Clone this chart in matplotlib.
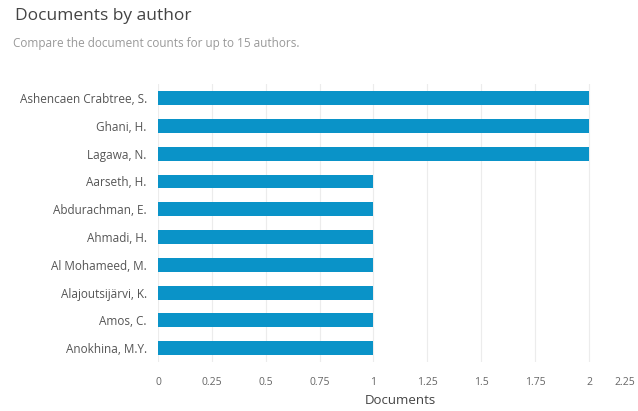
import matplotlib
matplotlib.use("Agg")
import matplotlib.pyplot as plt
import matplotlib.transforms as mtransforms

plt.rcParams['font.family'] = ['Open Sans', 'DejaVu Sans']

# data
authors = ['Ashencaen Crabtree, S.', 'Ghani, H.', 'Lagawa, N.', 'Aarseth, H.',
           'Abdurachman, E.', 'Ahmadi, H.', 'Al Mohameed, M.', 'Alajoutsijärvi, K.',
           'Amos, C.', 'Anokhina, M.Y.']
documents = [2, 2, 2, 1, 1, 1, 1, 1, 1, 1]
xticks = [0, 0.25, 0.5, 0.75, 1, 1.25, 1.5, 1.75, 2, 2.25]
xticklabels = ['0', '0.25', '0.5', '0.75', '1', '1.25', '1.5', '1.75', '2', '2.25']

fig = plt.figure(figsize=(6.38, 4.11), dpi=100)
ax = fig.add_axes([0.2476, 0.119, 0.760, 0.676])

ypos = list(range(len(authors)))
ax.barh(ypos, documents, height=0.5, color='#0a93c8', zorder=3)
ax.set_yticks(ypos)
ax.set_yticklabels(authors)
ax.set_ylim(len(authors) - 0.5, -0.5)
ax.set_xlim(0, 2.25)
ax.set_xticks(xticks)
ax.set_xticklabels(xticklabels)

ax.grid(axis='x', color='#ececec', linewidth=0.8, zorder=0)
for s in ax.spines.values():
    s.set_visible(False)
ax.tick_params(axis='x', length=0, labelsize=7.5, labelcolor='#666666', pad=11)
ax.tick_params(axis='y', length=0, labelsize=8.5, labelcolor='#555555', pad=8)
ax.set_xlabel('Documents', fontsize=9.5, color='#444444', labelpad=4)

# last tick label sits at the figure edge, pull it inside
last = ax.get_xticklabels()[-1]
last.set_horizontalalignment('right')
last.set_transform(last.get_transform() + mtransforms.ScaledTranslation(-0.08, 0, fig.dpi_scale_trans))

fig.text(0.024, 0.96, 'Documents by author', fontsize=12.5, color='#444444', va='center')
fig.text(0.02, 0.893, 'Compare the document counts for up to 15 authors.',
         fontsize=8.5, color='#999999', va='center')

plt.savefig('out.png', dpi=100)
